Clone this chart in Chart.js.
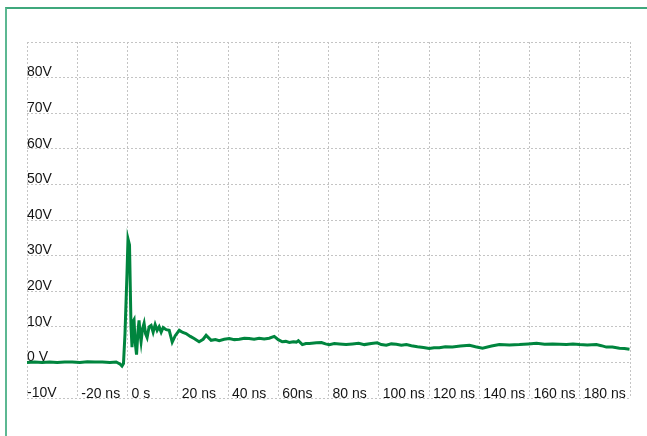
<!DOCTYPE html>
<html>
<head>
<meta charset="utf-8">
<script src="https://cdn.jsdelivr.net/npm/chart.js@4.4.1/dist/chart.umd.min.js"></script>
<style>
  html, body { margin: 0; padding: 0; background: #ffffff; overflow: hidden; }
  #frame { position: absolute; left: 5px; top: 7px; width: 700px; height: 500px;
           border-top: 2px solid #3fa87c; border-left: 2px solid #5cb892; }
  #c { position: absolute; left: 0; top: 0; }
</style>
</head>
<body>
<div id="frame"></div>
<canvas id="c" width="647" height="436"></canvas>
<script>
// Time (ns) and voltage (V) samples
const timeNs = [
  -40, -37, -34, -31, -28, -25, -22, -19, -16, -13, -10, -7, -4.5, -2.9, -2.2, -1.6,
  -1.0, -0.2, 0.2, 0.8, 1.4, 1.8, 2.2, 2.6, 3.0, 3.6, 4.2, 4.6, 5.0, 5.4, 6.0, 6.6,
  7.2, 7.8, 8.6, 9.4, 10.2, 11.0, 11.8, 12.6, 13.4, 14.2, 15.4, 16.6, 17.8, 19.0,
  20.6, 22.0, 23.3, 25.0, 26.5, 28.5, 30.1, 31.3, 33.3, 35.0, 36.5, 38.5, 40.5, 42.5,
  44.5, 46.5, 48.4, 50.4, 52.4, 54.4, 56.4, 58.4, 60.0, 61.6, 63.0, 64.4, 66.0,
  67.2, 68.0, 69.6, 71.0, 72.4, 75.2, 77.2, 78.8, 80.3, 82.3, 84.3, 87.0, 89.5,
  92.0, 94.3, 97.0, 99.4, 101.0, 103.0, 105.0, 107.0, 109.0, 111.0, 113.0, 115.4,
  117.8, 120.1, 122.0, 124.1, 126.5, 129.3, 132.5, 136.1, 138.5, 141.3, 144.9,
  148.0, 152.0, 156.0, 159.5, 162.8, 166.0, 169.2, 172.0, 174.7, 177.3, 179.9,
  183.0, 186.6, 188.6, 190.6, 193.0, 195.8, 197.8, 199.8
];
const voltageV = [
  0.0, 0.1, 0.0, 0.1, 0.0, 0.1, 0.1, 0.0, 0.2, 0.1, 0.1, 0.0, 0.1, -0.5, -1.0, -0.3,
  8.0, 25.0, 34.7, 33.0, 10.0, 4.3, 11.5, 12.0, 6.0, 2.2, 9.0, 11.8, 8.0, 5.8, 9.5, 11.0,
  8.0, 7.0, 10.0, 10.4, 8.5, 10.6, 9.0, 10.0, 8.5, 9.8, 9.2, 9.0, 5.7, 7.5,
  9.0, 8.4, 8.1, 7.3, 6.7, 5.8, 6.5, 7.6, 6.2, 6.4, 6.1, 6.5, 6.7, 6.4,
  6.5, 6.8, 6.7, 6.5, 6.8, 6.6, 6.8, 7.3, 6.4, 5.8, 5.9, 5.6, 5.8,
  5.7, 6.1, 5.0, 5.3, 5.3, 5.5, 5.6, 5.2, 5.0, 5.3, 5.2, 5.0, 5.2,
  5.4, 5.0, 5.3, 5.5, 5.0, 4.8, 5.2, 5.1, 4.8, 5.0, 4.7, 4.4,
  4.2, 3.9, 4.1, 4.1, 4.4, 4.3, 4.6, 4.8, 4.4, 4.0, 4.6,
  5.0, 4.9, 5.0, 5.2, 5.4, 5.1, 5.2, 5.1, 5.0, 5.2, 5.0,
  4.9, 5.0, 4.7, 4.3, 4.3, 4.0, 3.9, 3.7
];
const xTickLabels = ['', '-20 ns', '0 s', '20 ns', '40 ns', '60ns', '80 ns', '100 ns',
                     '120 ns', '140 ns', '160 ns', '180 ns', ''];
const yTickLabels = ['-10V', '0 V', '10V', '20V', '30V', '40V', '50V', '60V', '70V', '80V', ''];

const points = timeNs.map((t, i) => ({ x: t, y: voltageV[i] }));

new Chart(document.getElementById('c'), {
  type: 'line',
  data: {
    datasets: [{
      data: points,
      borderColor: '#00853e',
      borderWidth: 3,
      pointRadius: 0,
      tension: 0,
      fill: false
    }]
  },
  options: {
    responsive: false,
    animation: false,
    devicePixelRatio: 1,
    layout: { padding: { left: 27, top: 42, right: 17, bottom: 38 } },
    plugins: { legend: { display: false }, tooltip: { enabled: false } },
    scales: {
      x: {
        type: 'linear',
        min: -40, max: 200,
        grid: { color: '#c4c4c4', drawTicks: false, lineWidth: 1 },
        border: { display: false, dash: [2, 2] },
        ticks: {
          stepSize: 20,
          mirror: true,
          align: 'start',
          padding: -4.5,
          labelOffset: 4,
          color: '#141414',
          font: { family: 'Liberation Sans, Arial, sans-serif', size: 14 },
          maxRotation: 0,
          autoSkip: false,
          callback: (v, i) => xTickLabels[i]
        }
      },
      y: {
        type: 'linear',
        min: -10, max: 90,
        grid: { color: '#c4c4c4', drawTicks: false, lineWidth: 1 },
        border: { display: false, dash: [2, 2] },
        ticks: {
          stepSize: 10,
          mirror: true,
          padding: 0,
          labelOffset: -5,
          color: '#141414',
          font: { family: 'Liberation Sans, Arial, sans-serif', size: 14 },
          autoSkip: false,
          callback: (v, i) => yTickLabels[i]
        }
      }
    }
  }
});
</script>
</body>
</html>
